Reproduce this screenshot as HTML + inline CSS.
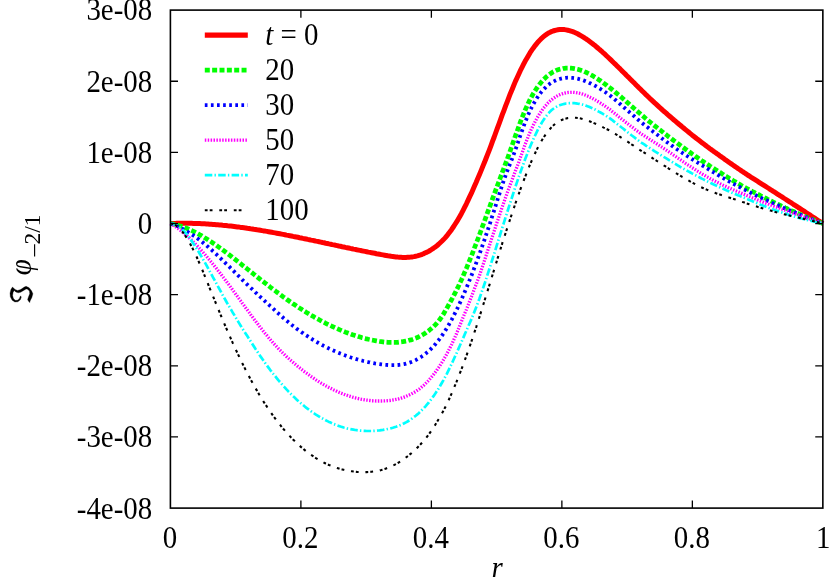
<!DOCTYPE html>
<html><head><meta charset="utf-8"><title>plot</title>
<style>
html,body{margin:0;padding:0;background:#fff;}
body{width:831px;height:577px;overflow:hidden;position:relative;font-family:"Liberation Serif",serif;}
</style></head><body>
<svg width="831" height="577" viewBox="0 0 831 577" style="position:absolute;left:0;top:0;will-change:transform">
<rect width="831" height="577" fill="#fff"/>
<path d="M170.4,223.5 L172.0,223.5 L173.7,223.4 L175.3,223.4 L176.9,223.3 L178.6,223.3 L180.2,223.3 L181.8,223.3 L183.5,223.2 L185.1,223.2 L186.8,223.3 L188.4,223.3 L190.0,223.3 L191.7,223.3 L193.3,223.4 L194.9,223.4 L196.6,223.5 L198.2,223.5 L199.8,223.6 L201.5,223.7 L203.1,223.8 L204.7,223.8 L206.4,223.9 L208.0,224.0 L209.6,224.2 L211.3,224.3 L212.9,224.4 L214.6,224.5 L216.2,224.7 L217.8,224.8 L219.5,224.9 L221.1,225.1 L222.7,225.3 L224.4,225.4 L226.0,225.6 L227.6,225.8 L229.3,225.9 L230.9,226.1 L232.5,226.3 L234.2,226.5 L235.8,226.7 L237.4,226.9 L239.1,227.1 L240.7,227.4 L242.3,227.6 L244.0,227.8 L245.6,228.0 L247.3,228.3 L248.9,228.5 L250.5,228.8 L252.2,229.0 L253.8,229.3 L255.4,229.5 L257.1,229.8 L258.7,230.0 L260.3,230.3 L262.0,230.6 L263.6,230.9 L265.2,231.1 L266.9,231.4 L268.5,231.7 L270.1,232.0 L271.8,232.3 L273.4,232.6 L275.1,232.9 L276.7,233.2 L278.3,233.5 L280.0,233.8 L281.6,234.1 L283.2,234.4 L284.9,234.7 L286.5,235.1 L288.1,235.4 L289.8,235.7 L291.4,236.0 L293.0,236.4 L294.7,236.7 L296.3,237.0 L297.9,237.3 L299.6,237.7 L301.2,238.0 L302.9,238.4 L304.5,238.7 L306.1,239.0 L307.8,239.4 L309.4,239.7 L311.0,240.1 L312.7,240.4 L314.3,240.7 L315.9,241.1 L317.6,241.4 L319.2,241.8 L320.8,242.1 L322.5,242.5 L324.1,242.8 L325.7,243.2 L327.4,243.5 L329.0,243.9 L330.7,244.2 L332.3,244.6 L333.9,244.9 L335.6,245.3 L337.2,245.6 L338.8,246.0 L340.5,246.3 L342.1,246.7 L343.7,247.0 L345.4,247.4 L347.0,247.7 L348.6,248.0 L350.3,248.4 L351.9,248.7 L353.5,249.1 L355.2,249.4 L356.8,249.8 L358.4,250.1 L360.1,250.4 L361.7,250.8 L363.4,251.1 L365.0,251.4 L366.6,251.7 L368.3,252.1 L369.9,252.4 L371.5,252.7 L373.2,253.0 L374.8,253.3 L376.4,253.7 L378.1,254.0 L379.7,254.3 L381.3,254.6 L383.0,254.9 L384.6,255.2 L386.2,255.5 L387.9,255.8 L389.5,256.0 L391.2,256.3 L392.8,256.5 L394.4,256.7 L396.1,256.9 L397.7,257.1 L399.3,257.2 L401.0,257.3 L402.6,257.4 L404.2,257.4 L405.9,257.4 L407.5,257.3 L409.1,257.2 L410.8,257.1 L412.4,256.9 L414.0,256.6 L415.7,256.2 L417.3,255.9 L419.0,255.4 L420.6,254.9 L422.2,254.3 L423.9,253.6 L425.5,252.8 L427.1,252.1 L428.8,251.2 L430.4,250.3 L432.0,249.2 L433.7,248.1 L435.3,246.9 L436.9,245.7 L438.6,244.3 L440.2,242.8 L441.8,241.3 L443.5,239.6 L445.1,237.9 L446.8,235.9 L448.4,233.8 L450.0,231.7 L451.7,229.4 L453.3,227.0 L454.9,224.5 L456.6,221.9 L458.2,219.2 L459.8,216.4 L461.5,213.4 L463.1,210.3 L464.7,207.1 L466.4,203.8 L468.0,200.4 L469.6,196.9 L471.3,193.4 L472.9,189.8 L474.5,186.1 L476.2,182.3 L477.8,178.4 L479.5,174.5 L481.1,170.6 L482.7,166.6 L484.4,162.6 L486.0,158.5 L487.6,154.4 L489.3,150.1 L490.9,145.8 L492.5,141.4 L494.2,137.0 L495.8,132.5 L497.4,128.1 L499.1,123.6 L500.7,119.1 L502.3,114.7 L504.0,110.3 L505.6,105.9 L507.3,101.6 L508.9,97.4 L510.5,93.2 L512.2,89.2 L513.8,85.3 L515.4,81.4 L517.1,77.7 L518.7,74.2 L520.3,70.7 L522.0,67.4 L523.6,64.2 L525.2,61.1 L526.9,58.2 L528.5,55.4 L530.1,52.7 L531.8,50.2 L533.4,47.9 L535.1,45.6 L536.7,43.6 L538.3,41.7 L540.0,39.9 L541.6,38.3 L543.2,36.9 L544.9,35.5 L546.5,34.4 L548.1,33.3 L549.8,32.4 L551.4,31.6 L553.0,31.0 L554.7,30.5 L556.3,30.1 L557.9,29.8 L559.6,29.6 L561.2,29.5 L562.9,29.5 L564.5,29.6 L566.1,29.9 L567.8,30.2 L569.4,30.6 L571.0,31.1 L572.7,31.6 L574.3,32.3 L575.9,33.0 L577.6,33.8 L579.2,34.7 L580.8,35.6 L582.5,36.6 L584.1,37.6 L585.7,38.7 L587.4,39.8 L589.0,41.0 L590.6,42.2 L592.3,43.5 L593.9,44.8 L595.6,46.1 L597.2,47.5 L598.8,48.9 L600.5,50.3 L602.1,51.7 L603.7,53.2 L605.4,54.7 L607.0,56.3 L608.6,57.8 L610.3,59.4 L611.9,60.9 L613.5,62.5 L615.2,64.1 L616.8,65.7 L618.4,67.3 L620.1,68.9 L621.7,70.6 L623.4,72.2 L625.0,73.8 L626.6,75.5 L628.3,77.1 L629.9,78.7 L631.5,80.4 L633.2,82.0 L634.8,83.6 L636.4,85.3 L638.1,86.9 L639.7,88.5 L641.3,90.1 L643.0,91.7 L644.6,93.3 L646.2,94.9 L647.9,96.5 L649.5,98.1 L651.2,99.6 L652.8,101.1 L654.4,102.6 L656.1,104.1 L657.7,105.6 L659.3,107.1 L661.0,108.6 L662.6,110.1 L664.2,111.5 L665.9,112.9 L667.5,114.4 L669.1,115.8 L670.8,117.2 L672.4,118.6 L674.0,120.0 L675.7,121.4 L677.3,122.8 L679.0,124.2 L680.6,125.5 L682.2,126.9 L683.9,128.3 L685.5,129.6 L687.1,130.9 L688.8,132.3 L690.4,133.6 L692.0,134.9 L693.7,136.2 L695.3,137.5 L696.9,138.8 L698.6,140.1 L700.2,141.3 L701.8,142.6 L703.5,143.8 L705.1,145.0 L706.7,146.3 L708.4,147.5 L710.0,148.7 L711.7,149.9 L713.3,151.1 L714.9,152.2 L716.6,153.4 L718.2,154.6 L719.8,155.8 L721.5,156.9 L723.1,158.1 L724.7,159.3 L726.4,160.4 L728.0,161.6 L729.6,162.7 L731.3,163.9 L732.9,165.0 L734.5,166.1 L736.2,167.3 L737.8,168.4 L739.5,169.5 L741.1,170.6 L742.7,171.7 L744.4,172.8 L746.0,173.9 L747.6,175.0 L749.3,176.0 L750.9,177.1 L752.5,178.1 L754.2,179.2 L755.8,180.2 L757.4,181.2 L759.1,182.3 L760.7,183.3 L762.3,184.3 L764.0,185.4 L765.6,186.4 L767.3,187.5 L768.9,188.5 L770.5,189.6 L772.2,190.6 L773.8,191.7 L775.4,192.7 L777.1,193.8 L778.7,194.8 L780.3,195.9 L782.0,196.9 L783.6,198.0 L785.2,199.0 L786.9,200.1 L788.5,201.1 L790.1,202.2 L791.8,203.2 L793.4,204.3 L795.1,205.4 L796.7,206.4 L798.3,207.5 L800.0,208.5 L801.6,209.6 L803.2,210.6 L804.9,211.7 L806.5,212.8 L808.1,213.8 L809.8,214.9 L811.4,216.0 L813.0,217.0 L814.7,218.1 L816.3,219.2 L817.9,220.3 L819.6,221.4 L821.2,222.4 L822.9,223.5" fill="none" stroke="#ff0000" stroke-width="5.0" stroke-linejoin="round"/>
<path d="M170.4,223.5 L172.0,223.8 L173.7,224.2 L175.3,224.5 L176.9,225.0 L178.6,225.4 L180.2,225.9 L181.8,226.5 L183.5,227.1 L185.1,227.7 L186.8,228.3 L188.4,229.0 L190.0,229.8 L191.7,230.5 L193.3,231.3 L194.9,232.1 L196.6,233.0 L198.2,233.9 L199.8,234.8 L201.5,235.7 L203.1,236.7 L204.7,237.7 L206.4,238.7 L208.0,239.7 L209.6,240.8 L211.3,241.9 L212.9,243.0 L214.6,244.1 L216.2,245.2 L217.8,246.4 L219.5,247.6 L221.1,248.7 L222.7,249.9 L224.4,251.2 L226.0,252.4 L227.6,253.6 L229.3,254.9 L230.9,256.1 L232.5,257.4 L234.2,258.7 L235.8,259.9 L237.4,261.2 L239.1,262.5 L240.7,263.8 L242.3,265.1 L244.0,266.4 L245.6,267.7 L247.3,269.0 L248.9,270.3 L250.5,271.6 L252.2,272.9 L253.8,274.2 L255.4,275.5 L257.1,276.8 L258.7,278.1 L260.3,279.4 L262.0,280.7 L263.6,281.9 L265.2,283.2 L266.9,284.5 L268.5,285.7 L270.1,287.0 L271.8,288.3 L273.4,289.5 L275.1,290.7 L276.7,292.0 L278.3,293.2 L280.0,294.4 L281.6,295.6 L283.2,296.8 L284.9,298.0 L286.5,299.2 L288.1,300.3 L289.8,301.5 L291.4,302.6 L293.0,303.7 L294.7,304.8 L296.3,305.9 L297.9,307.0 L299.6,308.1 L301.2,309.1 L302.9,310.2 L304.5,311.2 L306.1,312.2 L307.8,313.2 L309.4,314.2 L311.0,315.2 L312.7,316.1 L314.3,317.1 L315.9,318.0 L317.6,318.9 L319.2,319.8 L320.8,320.7 L322.5,321.6 L324.1,322.4 L325.7,323.3 L327.4,324.1 L329.0,324.9 L330.7,325.7 L332.3,326.5 L333.9,327.2 L335.6,328.0 L337.2,328.7 L338.8,329.4 L340.5,330.1 L342.1,330.8 L343.7,331.4 L345.4,332.1 L347.0,332.7 L348.6,333.3 L350.3,333.9 L351.9,334.5 L353.5,335.1 L355.2,335.6 L356.8,336.1 L358.4,336.6 L360.1,337.1 L361.7,337.6 L363.4,338.0 L365.0,338.4 L366.6,338.9 L368.3,339.3 L369.9,339.6 L371.5,340.0 L373.2,340.3 L374.8,340.6 L376.4,340.9 L378.1,341.2 L379.7,341.5 L381.3,341.7 L383.0,341.9 L384.6,342.1 L386.2,342.2 L387.9,342.3 L389.5,342.4 L391.2,342.4 L392.8,342.4 L394.4,342.4 L396.1,342.4 L397.7,342.3 L399.3,342.1 L401.0,341.9 L402.6,341.7 L404.2,341.4 L405.9,341.1 L407.5,340.8 L409.1,340.3 L410.8,339.9 L412.4,339.4 L414.0,338.8 L415.7,338.2 L417.3,337.5 L419.0,336.7 L420.6,335.9 L422.2,335.0 L423.9,334.0 L425.5,333.0 L427.1,331.8 L428.8,330.6 L430.4,329.3 L432.0,327.9 L433.7,326.4 L435.3,324.8 L436.9,323.1 L438.6,321.1 L440.2,319.0 L441.8,316.6 L443.5,314.0 L445.1,311.2 L446.8,308.3 L448.4,305.4 L450.0,302.5 L451.7,299.5 L453.3,296.4 L454.9,293.3 L456.6,290.0 L458.2,286.7 L459.8,283.2 L461.5,279.7 L463.1,276.0 L464.7,272.2 L466.4,268.4 L468.0,264.4 L469.6,260.4 L471.3,256.3 L472.9,252.1 L474.5,247.8 L476.2,243.5 L477.8,239.2 L479.5,234.8 L481.1,230.3 L482.7,225.9 L484.4,221.4 L486.0,216.9 L487.6,212.4 L489.3,207.9 L490.9,203.4 L492.5,198.9 L494.2,194.4 L495.8,189.9 L497.4,185.5 L499.1,181.1 L500.7,176.7 L502.3,172.3 L504.0,167.9 L505.6,163.5 L507.3,159.0 L508.9,154.5 L510.5,149.9 L512.2,145.2 L513.8,140.6 L515.4,135.9 L517.1,131.3 L518.7,126.7 L520.3,122.2 L522.0,117.9 L523.6,113.8 L525.2,109.9 L526.9,106.2 L528.5,102.7 L530.1,99.4 L531.8,96.3 L533.4,93.4 L535.1,90.7 L536.7,88.2 L538.3,85.9 L540.0,83.7 L541.6,81.8 L543.2,79.9 L544.9,78.3 L546.5,76.7 L548.1,75.4 L549.8,74.1 L551.4,73.0 L553.0,72.0 L554.7,71.2 L556.3,70.4 L557.9,69.8 L559.6,69.3 L561.2,68.9 L562.9,68.5 L564.5,68.3 L566.1,68.1 L567.8,68.1 L569.4,68.1 L571.0,68.2 L572.7,68.3 L574.3,68.6 L575.9,68.9 L577.6,69.3 L579.2,69.8 L580.8,70.3 L582.5,70.9 L584.1,71.5 L585.7,72.2 L587.4,73.0 L589.0,73.8 L590.6,74.7 L592.3,75.6 L593.9,76.6 L595.6,77.6 L597.2,78.6 L598.8,79.7 L600.5,80.8 L602.1,82.0 L603.7,83.2 L605.4,84.4 L607.0,85.6 L608.6,86.9 L610.3,88.1 L611.9,89.4 L613.5,90.7 L615.2,92.1 L616.8,93.4 L618.4,94.7 L620.1,96.1 L621.7,97.5 L623.4,99.0 L625.0,100.4 L626.6,101.9 L628.3,103.3 L629.9,104.8 L631.5,106.2 L633.2,107.6 L634.8,109.1 L636.4,110.5 L638.1,111.9 L639.7,113.3 L641.3,114.7 L643.0,116.1 L644.6,117.5 L646.2,118.9 L647.9,120.3 L649.5,121.7 L651.2,123.0 L652.8,124.3 L654.4,125.6 L656.1,126.9 L657.7,128.2 L659.3,129.5 L661.0,130.7 L662.6,132.0 L664.2,133.3 L665.9,134.5 L667.5,135.8 L669.1,137.0 L670.8,138.2 L672.4,139.5 L674.0,140.7 L675.7,141.9 L677.3,143.1 L679.0,144.4 L680.6,145.6 L682.2,146.8 L683.9,148.0 L685.5,149.2 L687.1,150.3 L688.8,151.5 L690.4,152.7 L692.0,153.9 L693.7,155.0 L695.3,156.2 L696.9,157.3 L698.6,158.5 L700.2,159.6 L701.8,160.7 L703.5,161.8 L705.1,162.9 L706.7,164.0 L708.4,165.0 L710.0,166.1 L711.7,167.2 L713.3,168.2 L714.9,169.3 L716.6,170.3 L718.2,171.4 L719.8,172.4 L721.5,173.4 L723.1,174.4 L724.7,175.5 L726.4,176.5 L728.0,177.5 L729.6,178.5 L731.3,179.5 L732.9,180.4 L734.5,181.4 L736.2,182.4 L737.8,183.4 L739.5,184.3 L741.1,185.3 L742.7,186.2 L744.4,187.2 L746.0,188.1 L747.6,189.0 L749.3,189.8 L750.9,190.7 L752.5,191.6 L754.2,192.4 L755.8,193.3 L757.4,194.1 L759.1,194.9 L760.7,195.8 L762.3,196.6 L764.0,197.4 L765.6,198.2 L767.3,199.1 L768.9,199.9 L770.5,200.7 L772.2,201.5 L773.8,202.3 L775.4,203.1 L777.1,203.9 L778.7,204.7 L780.3,205.5 L782.0,206.3 L783.6,207.0 L785.2,207.8 L786.9,208.5 L788.5,209.3 L790.1,210.0 L791.8,210.8 L793.4,211.5 L795.1,212.2 L796.7,212.9 L798.3,213.6 L800.0,214.3 L801.6,215.0 L803.2,215.7 L804.9,216.4 L806.5,217.1 L808.1,217.8 L809.8,218.4 L811.4,219.1 L813.0,219.7 L814.7,220.4 L816.3,221.0 L817.9,221.7 L819.6,222.3 L821.2,222.9 L822.9,223.5" fill="none" stroke="#00ff00" stroke-width="4.7" stroke-dasharray="5,2.35" stroke-linejoin="round"/>
<path d="M170.4,223.5 L172.0,224.1 L173.7,224.8 L175.3,225.4 L176.9,226.1 L178.6,226.9 L180.2,227.7 L181.8,228.5 L183.5,229.4 L185.1,230.3 L186.8,231.3 L188.4,232.3 L190.0,233.3 L191.7,234.3 L193.3,235.4 L194.9,236.5 L196.6,237.7 L198.2,238.9 L199.8,240.1 L201.5,241.4 L203.1,242.7 L204.7,244.1 L206.4,245.4 L208.0,246.8 L209.6,248.3 L211.3,249.7 L212.9,251.2 L214.6,252.7 L216.2,254.2 L217.8,255.7 L219.5,257.3 L221.1,258.8 L222.7,260.4 L224.4,262.0 L226.0,263.6 L227.6,265.1 L229.3,266.7 L230.9,268.3 L232.5,269.9 L234.2,271.6 L235.8,273.2 L237.4,274.8 L239.1,276.5 L240.7,278.1 L242.3,279.8 L244.0,281.4 L245.6,283.0 L247.3,284.6 L248.9,286.1 L250.5,287.7 L252.2,289.2 L253.8,290.8 L255.4,292.3 L257.1,293.8 L258.7,295.4 L260.3,296.9 L262.0,298.4 L263.6,299.9 L265.2,301.4 L266.9,302.9 L268.5,304.4 L270.1,305.9 L271.8,307.4 L273.4,308.9 L275.1,310.5 L276.7,312.0 L278.3,313.4 L280.0,314.9 L281.6,316.3 L283.2,317.8 L284.9,319.2 L286.5,320.6 L288.1,321.9 L289.8,323.3 L291.4,324.6 L293.0,325.9 L294.7,327.1 L296.3,328.4 L297.9,329.6 L299.6,330.8 L301.2,332.0 L302.9,333.1 L304.5,334.3 L306.1,335.4 L307.8,336.4 L309.4,337.5 L311.0,338.5 L312.7,339.6 L314.3,340.6 L315.9,341.5 L317.6,342.5 L319.2,343.4 L320.8,344.3 L322.5,345.2 L324.1,346.1 L325.7,346.9 L327.4,347.7 L329.0,348.5 L330.7,349.3 L332.3,350.1 L333.9,350.8 L335.6,351.5 L337.2,352.3 L338.8,352.9 L340.5,353.6 L342.1,354.2 L343.7,354.9 L345.4,355.5 L347.0,356.1 L348.6,356.6 L350.3,357.2 L351.9,357.7 L353.5,358.2 L355.2,358.7 L356.8,359.2 L358.4,359.7 L360.1,360.1 L361.7,360.5 L363.4,361.0 L365.0,361.3 L366.6,361.7 L368.3,362.1 L369.9,362.4 L371.5,362.8 L373.2,363.1 L374.8,363.4 L376.4,363.6 L378.1,363.9 L379.7,364.1 L381.3,364.4 L383.0,364.6 L384.6,364.8 L386.2,364.9 L387.9,365.0 L389.5,365.1 L391.2,365.2 L392.8,365.2 L394.4,365.2 L396.1,365.1 L397.7,365.0 L399.3,364.8 L401.0,364.6 L402.6,364.4 L404.2,364.1 L405.9,363.7 L407.5,363.2 L409.1,362.8 L410.8,362.2 L412.4,361.6 L414.0,360.9 L415.7,360.1 L417.3,359.2 L419.0,358.3 L420.6,357.3 L422.2,356.2 L423.9,355.1 L425.5,353.8 L427.1,352.4 L428.8,351.0 L430.4,349.5 L432.0,347.8 L433.7,346.1 L435.3,344.2 L436.9,342.3 L438.6,340.2 L440.2,338.1 L441.8,335.8 L443.5,333.4 L445.1,330.9 L446.8,328.2 L448.4,325.5 L450.0,322.6 L451.7,319.6 L453.3,316.5 L454.9,313.3 L456.6,310.0 L458.2,306.6 L459.8,303.1 L461.5,299.5 L463.1,295.8 L464.7,292.0 L466.4,288.1 L468.0,284.2 L469.6,280.1 L471.3,276.0 L472.9,271.7 L474.5,267.4 L476.2,263.0 L477.8,258.6 L479.5,254.1 L481.1,249.4 L482.7,244.8 L484.4,240.0 L486.0,235.2 L487.6,230.4 L489.3,225.4 L490.9,220.5 L492.5,215.4 L494.2,210.3 L495.8,205.2 L497.4,200.0 L499.1,194.8 L500.7,189.7 L502.3,184.7 L504.0,179.9 L505.6,175.3 L507.3,170.9 L508.9,166.7 L510.5,162.6 L512.2,158.5 L513.8,154.2 L515.4,149.7 L517.1,145.0 L518.7,140.3 L520.3,135.5 L522.0,130.8 L523.6,126.3 L525.2,122.0 L526.9,117.9 L528.5,114.1 L530.1,110.5 L531.8,107.2 L533.4,104.1 L535.1,101.2 L536.7,98.5 L538.3,96.1 L540.0,93.8 L541.6,91.7 L543.2,89.8 L544.9,88.1 L546.5,86.5 L548.1,85.1 L549.8,83.8 L551.4,82.7 L553.0,81.7 L554.7,80.9 L556.3,80.1 L557.9,79.5 L559.6,79.0 L561.2,78.6 L562.9,78.2 L564.5,78.0 L566.1,77.8 L567.8,77.7 L569.4,77.7 L571.0,77.8 L572.7,77.9 L574.3,78.1 L575.9,78.3 L577.6,78.7 L579.2,79.1 L580.8,79.5 L582.5,80.0 L584.1,80.6 L585.7,81.2 L587.4,81.9 L589.0,82.7 L590.6,83.4 L592.3,84.3 L593.9,85.1 L595.6,86.0 L597.2,87.0 L598.8,88.0 L600.5,89.0 L602.1,90.0 L603.7,91.1 L605.4,92.2 L607.0,93.4 L608.6,94.5 L610.3,95.7 L611.9,97.1 L613.5,98.4 L615.2,99.8 L616.8,101.2 L618.4,102.6 L620.1,104.0 L621.7,105.4 L623.4,106.9 L625.0,108.3 L626.6,109.7 L628.3,111.1 L629.9,112.6 L631.5,114.0 L633.2,115.4 L634.8,116.8 L636.4,118.3 L638.1,119.7 L639.7,121.1 L641.3,122.4 L643.0,123.7 L644.6,125.0 L646.2,126.3 L647.9,127.5 L649.5,128.8 L651.2,130.1 L652.8,131.4 L654.4,132.6 L656.1,133.9 L657.7,135.1 L659.3,136.4 L661.0,137.6 L662.6,138.9 L664.2,140.1 L665.9,141.4 L667.5,142.6 L669.1,143.8 L670.8,145.0 L672.4,146.1 L674.0,147.3 L675.7,148.4 L677.3,149.5 L679.0,150.6 L680.6,151.7 L682.2,152.8 L683.9,153.9 L685.5,154.9 L687.1,156.0 L688.8,157.1 L690.4,158.1 L692.0,159.1 L693.7,160.2 L695.3,161.2 L696.9,162.2 L698.6,163.2 L700.2,164.2 L701.8,165.2 L703.5,166.1 L705.1,167.1 L706.7,168.2 L708.4,169.2 L710.0,170.2 L711.7,171.2 L713.3,172.2 L714.9,173.2 L716.6,174.2 L718.2,175.2 L719.8,176.1 L721.5,177.1 L723.1,178.0 L724.7,179.0 L726.4,179.9 L728.0,180.8 L729.6,181.7 L731.3,182.6 L732.9,183.5 L734.5,184.4 L736.2,185.3 L737.8,186.2 L739.5,187.0 L741.1,187.9 L742.7,188.7 L744.4,189.6 L746.0,190.4 L747.6,191.2 L749.3,192.1 L750.9,192.9 L752.5,193.7 L754.2,194.5 L755.8,195.3 L757.4,196.1 L759.1,196.8 L760.7,197.6 L762.3,198.4 L764.0,199.1 L765.6,199.9 L767.3,200.6 L768.9,201.4 L770.5,202.1 L772.2,202.9 L773.8,203.6 L775.4,204.3 L777.1,205.0 L778.7,205.8 L780.3,206.5 L782.0,207.2 L783.6,207.9 L785.2,208.6 L786.9,209.2 L788.5,209.9 L790.1,210.6 L791.8,211.3 L793.4,212.0 L795.1,212.6 L796.7,213.3 L798.3,214.0 L800.0,214.6 L801.6,215.3 L803.2,215.9 L804.9,216.6 L806.5,217.2 L808.1,217.9 L809.8,218.5 L811.4,219.1 L813.0,219.8 L814.7,220.4 L816.3,221.0 L817.9,221.7 L819.6,222.3 L821.2,222.9 L822.9,223.5" fill="none" stroke="#0000ff" stroke-width="3.8" stroke-dasharray="2.7,3.4" stroke-linejoin="round"/>
<path d="M170.4,223.5 L172.0,224.5 L173.7,225.5 L175.3,226.6 L176.9,227.7 L178.6,228.9 L180.2,230.2 L181.8,231.5 L183.5,232.8 L185.1,234.2 L186.8,235.6 L188.4,237.1 L190.0,238.7 L191.7,240.2 L193.3,241.8 L194.9,243.5 L196.6,245.2 L198.2,246.9 L199.8,248.7 L201.5,250.5 L203.1,252.4 L204.7,254.2 L206.4,256.1 L208.0,258.1 L209.6,260.0 L211.3,262.0 L212.9,264.0 L214.6,266.1 L216.2,268.1 L217.8,270.2 L219.5,272.3 L221.1,274.4 L222.7,276.6 L224.4,278.8 L226.0,280.9 L227.6,283.1 L229.3,285.3 L230.9,287.5 L232.5,289.7 L234.2,292.0 L235.8,294.2 L237.4,296.4 L239.1,298.7 L240.7,300.9 L242.3,303.2 L244.0,305.4 L245.6,307.7 L247.3,309.9 L248.9,312.1 L250.5,314.4 L252.2,316.6 L253.8,318.8 L255.4,320.9 L257.1,323.1 L258.7,325.2 L260.3,327.4 L262.0,329.4 L263.6,331.5 L265.2,333.5 L266.9,335.5 L268.5,337.5 L270.1,339.4 L271.8,341.3 L273.4,343.2 L275.1,345.0 L276.7,346.7 L278.3,348.5 L280.0,350.1 L281.6,351.8 L283.2,353.4 L284.9,354.9 L286.5,356.5 L288.1,358.0 L289.8,359.5 L291.4,360.9 L293.0,362.3 L294.7,363.8 L296.3,365.1 L297.9,366.5 L299.6,367.8 L301.2,369.1 L302.9,370.4 L304.5,371.7 L306.1,372.9 L307.8,374.1 L309.4,375.3 L311.0,376.5 L312.7,377.6 L314.3,378.7 L315.9,379.8 L317.6,380.8 L319.2,381.9 L320.8,382.9 L322.5,383.8 L324.1,384.8 L325.7,385.7 L327.4,386.6 L329.0,387.5 L330.7,388.3 L332.3,389.2 L333.9,390.0 L335.6,390.7 L337.2,391.5 L338.8,392.2 L340.5,392.9 L342.1,393.5 L343.7,394.1 L345.4,394.8 L347.0,395.3 L348.6,395.9 L350.3,396.4 L351.9,396.9 L353.5,397.4 L355.2,397.8 L356.8,398.2 L358.4,398.6 L360.1,399.0 L361.7,399.3 L363.4,399.6 L365.0,399.9 L366.6,400.1 L368.3,400.3 L369.9,400.5 L371.5,400.7 L373.2,400.8 L374.8,400.9 L376.4,401.0 L378.1,401.0 L379.7,401.0 L381.3,401.0 L383.0,400.9 L384.6,400.9 L386.2,400.8 L387.9,400.6 L389.5,400.5 L391.2,400.3 L392.8,400.0 L394.4,399.8 L396.1,399.4 L397.7,399.1 L399.3,398.7 L401.0,398.2 L402.6,397.7 L404.2,397.1 L405.9,396.5 L407.5,395.8 L409.1,395.1 L410.8,394.3 L412.4,393.4 L414.0,392.5 L415.7,391.5 L417.3,390.4 L419.0,389.3 L420.6,388.0 L422.2,386.6 L423.9,385.2 L425.5,383.6 L427.1,382.0 L428.8,380.3 L430.4,378.4 L432.0,376.5 L433.7,374.4 L435.3,372.3 L436.9,370.0 L438.6,367.6 L440.2,365.1 L441.8,362.6 L443.5,359.8 L445.1,357.0 L446.8,354.0 L448.4,351.0 L450.0,347.7 L451.7,344.4 L453.3,340.9 L454.9,337.3 L456.6,333.5 L458.2,329.6 L459.8,325.6 L461.5,321.4 L463.1,317.4 L464.7,313.5 L466.4,309.6 L468.0,305.5 L469.6,301.4 L471.3,297.2 L472.9,293.0 L474.5,288.6 L476.2,284.3 L477.8,279.9 L479.5,275.4 L481.1,270.7 L482.7,265.8 L484.4,260.8 L486.0,255.9 L487.6,250.9 L489.3,245.9 L490.9,240.9 L492.5,236.0 L494.2,231.0 L495.8,226.1 L497.4,221.2 L499.1,216.3 L500.7,211.5 L502.3,206.7 L504.0,202.0 L505.6,197.4 L507.3,192.8 L508.9,188.3 L510.5,183.9 L512.2,179.5 L513.8,175.2 L515.4,170.9 L517.1,166.6 L518.7,162.3 L520.3,157.8 L522.0,153.3 L523.6,148.7 L525.2,144.2 L526.9,139.9 L528.5,135.8 L530.1,132.0 L531.8,128.3 L533.4,124.9 L535.1,121.7 L536.7,118.7 L538.3,115.9 L540.0,113.3 L541.6,110.9 L543.2,108.6 L544.9,106.6 L546.5,104.7 L548.1,102.9 L549.8,101.3 L551.4,99.9 L553.0,98.6 L554.7,97.5 L556.3,96.4 L557.9,95.5 L559.6,94.8 L561.2,94.1 L562.9,93.6 L564.5,93.1 L566.1,92.8 L567.8,92.5 L569.4,92.4 L571.0,92.3 L572.7,92.3 L574.3,92.4 L575.9,92.6 L577.6,92.9 L579.2,93.2 L580.8,93.6 L582.5,94.1 L584.1,94.7 L585.7,95.3 L587.4,96.0 L589.0,96.7 L590.6,97.5 L592.3,98.3 L593.9,99.2 L595.6,100.1 L597.2,101.1 L598.8,102.1 L600.5,103.1 L602.1,104.2 L603.7,105.3 L605.4,106.4 L607.0,107.5 L608.6,108.7 L610.3,109.8 L611.9,111.2 L613.5,112.5 L615.2,113.8 L616.8,115.1 L618.4,116.5 L620.1,117.8 L621.7,119.1 L623.4,120.4 L625.0,121.7 L626.6,122.9 L628.3,124.2 L629.9,125.5 L631.5,126.7 L633.2,127.9 L634.8,129.2 L636.4,130.4 L638.1,131.6 L639.7,132.8 L641.3,133.9 L643.0,135.0 L644.6,136.0 L646.2,137.1 L647.9,138.1 L649.5,139.2 L651.2,140.2 L652.8,141.3 L654.4,142.3 L656.1,143.4 L657.7,144.4 L659.3,145.5 L661.0,146.6 L662.6,147.6 L664.2,148.7 L665.9,149.8 L667.5,150.9 L669.1,152.0 L670.8,153.1 L672.4,154.3 L674.0,155.4 L675.7,156.5 L677.3,157.7 L679.0,158.8 L680.6,159.9 L682.2,161.0 L683.9,162.1 L685.5,163.3 L687.1,164.4 L688.8,165.4 L690.4,166.5 L692.0,167.6 L693.7,168.7 L695.3,169.7 L696.9,170.8 L698.6,171.8 L700.2,172.8 L701.8,173.8 L703.5,174.8 L705.1,175.7 L706.7,176.7 L708.4,177.6 L710.0,178.6 L711.7,179.4 L713.3,180.3 L714.9,181.1 L716.6,182.0 L718.2,182.8 L719.8,183.6 L721.5,184.4 L723.1,185.2 L724.7,185.9 L726.4,186.7 L728.0,187.5 L729.6,188.2 L731.3,188.9 L732.9,189.6 L734.5,190.3 L736.2,191.0 L737.8,191.7 L739.5,192.4 L741.1,193.1 L742.7,193.7 L744.4,194.4 L746.0,195.1 L747.6,195.8 L749.3,196.5 L750.9,197.2 L752.5,197.9 L754.2,198.5 L755.8,199.2 L757.4,199.9 L759.1,200.5 L760.7,201.2 L762.3,201.8 L764.0,202.5 L765.6,203.1 L767.3,203.7 L768.9,204.3 L770.5,205.0 L772.2,205.6 L773.8,206.2 L775.4,206.8 L777.1,207.4 L778.7,208.0 L780.3,208.6 L782.0,209.2 L783.6,209.7 L785.2,210.3 L786.9,210.9 L788.5,211.5 L790.1,212.1 L791.8,212.6 L793.4,213.2 L795.1,213.8 L796.7,214.4 L798.3,214.9 L800.0,215.5 L801.6,216.1 L803.2,216.6 L804.9,217.2 L806.5,217.8 L808.1,218.3 L809.8,218.9 L811.4,219.5 L813.0,220.0 L814.7,220.6 L816.3,221.2 L817.9,221.8 L819.6,222.4 L821.2,222.9 L822.9,223.5" fill="none" stroke="#ff00ff" stroke-width="3.3" stroke-dasharray="1.5,1.4" stroke-linejoin="round"/>
<path d="M170.4,223.5 L172.0,223.7 L173.7,224.1 L175.3,224.7 L176.9,225.4 L178.6,226.4 L180.2,227.6 L181.8,229.0 L183.5,230.7 L185.1,232.5 L186.8,234.4 L188.4,236.5 L190.0,238.7 L191.7,241.0 L193.3,243.5 L194.9,246.0 L196.6,248.6 L198.2,251.1 L199.8,253.8 L201.5,256.6 L203.1,259.4 L204.7,262.2 L206.4,265.1 L208.0,268.1 L209.6,271.1 L211.3,274.1 L212.9,277.1 L214.6,280.1 L216.2,283.1 L217.8,286.1 L219.5,289.1 L221.1,292.1 L222.7,295.1 L224.4,298.1 L226.0,301.0 L227.6,303.8 L229.3,306.6 L230.9,309.4 L232.5,312.2 L234.2,314.9 L235.8,317.7 L237.4,320.4 L239.1,323.1 L240.7,325.7 L242.3,328.4 L244.0,331.0 L245.6,333.5 L247.3,336.1 L248.9,338.6 L250.5,341.1 L252.2,343.7 L253.8,346.3 L255.4,348.8 L257.1,351.2 L258.7,353.7 L260.3,356.1 L262.0,358.5 L263.6,360.8 L265.2,363.1 L266.9,365.4 L268.5,367.6 L270.1,369.8 L271.8,371.9 L273.4,374.0 L275.1,376.1 L276.7,378.1 L278.3,380.1 L280.0,382.0 L281.6,383.9 L283.2,385.8 L284.9,387.6 L286.5,389.4 L288.1,391.1 L289.8,392.8 L291.4,394.5 L293.0,396.1 L294.7,397.6 L296.3,399.2 L297.9,400.7 L299.6,402.1 L301.2,403.5 L302.9,404.9 L304.5,406.3 L306.1,407.6 L307.8,408.8 L309.4,410.0 L311.0,411.2 L312.7,412.4 L314.3,413.5 L315.9,414.6 L317.6,415.6 L319.2,416.6 L320.8,417.6 L322.5,418.5 L324.1,419.4 L325.7,420.3 L327.4,421.1 L329.0,421.9 L330.7,422.6 L332.3,423.4 L333.9,424.1 L335.6,424.7 L337.2,425.3 L338.8,425.9 L340.5,426.5 L342.1,427.0 L343.7,427.5 L345.4,427.9 L347.0,428.4 L348.6,428.7 L350.3,429.1 L351.9,429.4 L353.5,429.7 L355.2,430.0 L356.8,430.2 L358.4,430.4 L360.1,430.6 L361.7,430.7 L363.4,430.8 L365.0,430.9 L366.6,431.0 L368.3,431.0 L369.9,431.0 L371.5,431.0 L373.2,430.9 L374.8,430.8 L376.4,430.7 L378.1,430.5 L379.7,430.4 L381.3,430.1 L383.0,429.9 L384.6,429.6 L386.2,429.4 L387.9,429.0 L389.5,428.7 L391.2,428.2 L392.8,427.8 L394.4,427.3 L396.1,426.8 L397.7,426.2 L399.3,425.5 L401.0,424.8 L402.6,424.1 L404.2,423.3 L405.9,422.4 L407.5,421.5 L409.1,420.5 L410.8,419.4 L412.4,418.2 L414.0,417.0 L415.7,415.7 L417.3,414.4 L419.0,412.9 L420.6,411.4 L422.2,409.8 L423.9,408.1 L425.5,406.3 L427.1,404.4 L428.8,402.5 L430.4,400.4 L432.0,398.2 L433.7,395.9 L435.3,393.6 L436.9,391.1 L438.6,388.5 L440.2,385.8 L441.8,383.0 L443.5,380.1 L445.1,377.0 L446.8,373.9 L448.4,370.6 L450.0,367.3 L451.7,363.8 L453.3,360.3 L454.9,356.7 L456.6,353.1 L458.2,349.4 L459.8,345.7 L461.5,342.0 L463.1,338.2 L464.7,334.4 L466.4,330.7 L468.0,326.9 L469.6,323.2 L471.3,319.4 L472.9,315.5 L474.5,311.5 L476.2,307.2 L477.8,302.9 L479.5,298.4 L481.1,293.8 L482.7,289.1 L484.4,284.3 L486.0,279.4 L487.6,274.4 L489.3,269.3 L490.9,264.2 L492.5,259.0 L494.2,253.8 L495.8,248.6 L497.4,243.4 L499.1,238.1 L500.7,232.9 L502.3,227.6 L504.0,222.4 L505.6,217.2 L507.3,212.0 L508.9,206.9 L510.5,201.8 L512.2,196.7 L513.8,191.7 L515.4,186.8 L517.1,181.9 L518.7,177.2 L520.3,172.5 L522.0,167.9 L523.6,163.4 L525.2,159.0 L526.9,154.8 L528.5,150.7 L530.1,146.7 L531.8,142.8 L533.4,139.1 L535.1,135.5 L536.7,132.1 L538.3,128.9 L540.0,125.9 L541.6,123.0 L543.2,120.4 L544.9,117.9 L546.5,115.7 L548.1,113.7 L549.8,111.9 L551.4,110.3 L553.0,109.0 L554.7,107.8 L556.3,106.9 L557.9,106.0 L559.6,105.3 L561.2,104.8 L562.9,104.3 L564.5,103.9 L566.1,103.5 L567.8,103.3 L569.4,103.2 L571.0,103.1 L572.7,103.1 L574.3,103.2 L575.9,103.3 L577.6,103.6 L579.2,103.8 L580.8,104.2 L582.5,104.6 L584.1,105.1 L585.7,105.6 L587.4,106.2 L589.0,106.8 L590.6,107.5 L592.3,108.2 L593.9,109.0 L595.6,109.8 L597.2,110.7 L598.8,111.6 L600.5,112.5 L602.1,113.4 L603.7,114.4 L605.4,115.4 L607.0,116.4 L608.6,117.5 L610.3,118.6 L611.9,119.8 L613.5,121.1 L615.2,122.4 L616.8,123.7 L618.4,124.9 L620.1,126.2 L621.7,127.5 L623.4,128.8 L625.0,130.1 L626.6,131.4 L628.3,132.7 L629.9,133.9 L631.5,135.2 L633.2,136.5 L634.8,137.7 L636.4,139.0 L638.1,140.2 L639.7,141.5 L641.3,142.6 L643.0,143.7 L644.6,144.7 L646.2,145.8 L647.9,146.9 L649.5,147.9 L651.2,149.0 L652.8,150.0 L654.4,151.1 L656.1,152.1 L657.7,153.1 L659.3,154.2 L661.0,155.2 L662.6,156.2 L664.2,157.2 L665.9,158.2 L667.5,159.2 L669.1,160.2 L670.8,161.2 L672.4,162.2 L674.0,163.2 L675.7,164.2 L677.3,165.2 L679.0,166.2 L680.6,167.1 L682.2,168.0 L683.9,168.9 L685.5,169.8 L687.1,170.7 L688.8,171.6 L690.4,172.5 L692.0,173.4 L693.7,174.3 L695.3,175.1 L696.9,176.0 L698.6,176.9 L700.2,177.7 L701.8,178.6 L703.5,179.4 L705.1,180.3 L706.7,181.1 L708.4,181.9 L710.0,182.7 L711.7,183.5 L713.3,184.3 L714.9,185.1 L716.6,185.8 L718.2,186.6 L719.8,187.3 L721.5,188.1 L723.1,188.8 L724.7,189.5 L726.4,190.3 L728.0,191.0 L729.6,191.7 L731.3,192.4 L732.9,193.1 L734.5,193.8 L736.2,194.5 L737.8,195.2 L739.5,195.8 L741.1,196.5 L742.7,197.1 L744.4,197.8 L746.0,198.5 L747.6,199.2 L749.3,199.9 L750.9,200.6 L752.5,201.3 L754.2,202.0 L755.8,202.7 L757.4,203.4 L759.1,204.0 L760.7,204.7 L762.3,205.3 L764.0,206.0 L765.6,206.6 L767.3,207.3 L768.9,207.9 L770.5,208.5 L772.2,209.1 L773.8,209.7 L775.4,210.3 L777.1,210.8 L778.7,211.4 L780.3,212.0 L782.0,212.5 L783.6,213.1 L785.2,213.6 L786.9,214.1 L788.5,214.7 L790.1,215.2 L791.8,215.7 L793.4,216.2 L795.1,216.7 L796.7,217.1 L798.3,217.6 L800.0,218.1 L801.6,218.5 L803.2,219.0 L804.9,219.4 L806.5,219.8 L808.1,220.2 L809.8,220.6 L811.4,221.0 L813.0,221.4 L814.7,221.8 L816.3,222.2 L817.9,222.5 L819.6,222.9 L821.2,223.2 L822.9,223.5" fill="none" stroke="#00ffff" stroke-width="2.7" stroke-dasharray="7.5,2.2,1.4,2.3" stroke-linejoin="round"/>
<path d="M170.4,223.5 L172.0,223.7 L173.7,224.2 L175.3,225.0 L176.9,226.1 L178.6,227.5 L180.2,229.1 L181.8,231.0 L183.5,233.1 L185.1,235.4 L186.8,238.0 L188.4,240.7 L190.0,243.6 L191.7,246.7 L193.3,249.9 L194.9,253.3 L196.6,256.8 L198.2,260.4 L199.8,264.1 L201.5,267.9 L203.1,271.8 L204.7,275.8 L206.4,279.8 L208.0,283.8 L209.6,287.9 L211.3,292.0 L212.9,296.0 L214.6,300.1 L216.2,304.1 L217.8,308.1 L219.5,312.1 L221.1,316.0 L222.7,319.9 L224.4,323.8 L226.0,327.6 L227.6,331.3 L229.3,335.1 L230.9,338.8 L232.5,342.4 L234.2,346.0 L235.8,349.6 L237.4,353.1 L239.1,356.5 L240.7,359.9 L242.3,363.3 L244.0,366.6 L245.6,369.8 L247.3,373.0 L248.9,376.1 L250.5,379.2 L252.2,382.2 L253.8,385.2 L255.4,388.1 L257.1,390.9 L258.7,393.7 L260.3,396.4 L262.0,399.1 L263.6,401.7 L265.2,404.2 L266.9,406.7 L268.5,409.2 L270.1,411.5 L271.8,413.9 L273.4,416.2 L275.1,418.4 L276.7,420.6 L278.3,422.7 L280.0,424.7 L281.6,426.8 L283.2,428.7 L284.9,430.6 L286.5,432.5 L288.1,434.3 L289.8,436.1 L291.4,437.8 L293.0,439.5 L294.7,441.1 L296.3,442.7 L297.9,444.2 L299.6,445.7 L301.2,447.1 L302.9,448.5 L304.5,449.9 L306.1,451.2 L307.8,452.4 L309.4,453.6 L311.0,454.8 L312.7,455.9 L314.3,457.0 L315.9,458.1 L317.6,459.1 L319.2,460.0 L320.8,461.0 L322.5,461.8 L324.1,462.7 L325.7,463.5 L327.4,464.2 L329.0,465.0 L330.7,465.6 L332.3,466.3 L333.9,466.9 L335.6,467.5 L337.2,468.0 L338.8,468.5 L340.5,469.0 L342.1,469.4 L343.7,469.8 L345.4,470.2 L347.0,470.5 L348.6,470.8 L350.3,471.1 L351.9,471.3 L353.5,471.5 L355.2,471.7 L356.8,471.9 L358.4,472.0 L360.1,472.0 L361.7,472.1 L363.4,472.1 L365.0,472.1 L366.6,472.1 L368.3,472.0 L369.9,471.9 L371.5,471.7 L373.2,471.5 L374.8,471.3 L376.4,471.0 L378.1,470.7 L379.7,470.4 L381.3,470.0 L383.0,469.5 L384.6,469.0 L386.2,468.4 L387.9,467.8 L389.5,467.2 L391.2,466.5 L392.8,465.7 L394.4,464.9 L396.1,464.0 L397.7,463.1 L399.3,462.1 L401.0,461.0 L402.6,459.9 L404.2,458.7 L405.9,457.5 L407.5,456.3 L409.1,455.0 L410.8,453.7 L412.4,452.3 L414.0,450.8 L415.7,449.3 L417.3,447.7 L419.0,446.0 L420.6,444.3 L422.2,442.5 L423.9,440.6 L425.5,438.7 L427.1,436.6 L428.8,434.4 L430.4,432.1 L432.0,429.7 L433.7,427.2 L435.3,424.7 L436.9,422.1 L438.6,419.3 L440.2,416.5 L441.8,413.6 L443.5,410.6 L445.1,407.5 L446.8,404.2 L448.4,400.7 L450.0,397.1 L451.7,393.4 L453.3,389.6 L454.9,385.7 L456.6,381.7 L458.2,377.6 L459.8,373.4 L461.5,369.2 L463.1,364.9 L464.7,360.4 L466.4,355.9 L468.0,351.3 L469.6,346.6 L471.3,341.9 L472.9,337.0 L474.5,332.1 L476.2,327.1 L477.8,322.0 L479.5,316.8 L481.1,311.6 L482.7,306.4 L484.4,301.2 L486.0,295.9 L487.6,290.7 L489.3,285.4 L490.9,280.2 L492.5,274.9 L494.2,269.6 L495.8,264.3 L497.4,259.0 L499.1,253.6 L500.7,248.4 L502.3,243.2 L504.0,238.1 L505.6,233.0 L507.3,227.9 L508.9,222.9 L510.5,218.0 L512.2,213.1 L513.8,208.3 L515.4,203.5 L517.1,198.8 L518.7,194.2 L520.3,189.7 L522.0,185.2 L523.6,180.8 L525.2,176.6 L526.9,172.4 L528.5,168.3 L530.1,164.3 L531.8,160.5 L533.4,156.8 L535.1,153.2 L536.7,149.9 L538.3,146.6 L540.0,143.6 L541.6,140.7 L543.2,138.1 L544.9,135.6 L546.5,133.3 L548.1,131.1 L549.8,129.2 L551.4,127.4 L553.0,125.7 L554.7,124.3 L556.3,123.0 L557.9,121.9 L559.6,121.0 L561.2,120.2 L562.9,119.5 L564.5,118.9 L566.1,118.5 L567.8,118.1 L569.4,117.9 L571.0,117.8 L572.7,117.8 L574.3,117.7 L575.9,117.8 L577.6,118.0 L579.2,118.2 L580.8,118.5 L582.5,118.9 L584.1,119.4 L585.7,119.9 L587.4,120.4 L589.0,121.0 L590.6,121.7 L592.3,122.4 L593.9,123.1 L595.6,123.8 L597.2,124.5 L598.8,125.3 L600.5,126.0 L602.1,126.8 L603.7,127.6 L605.4,128.4 L607.0,129.2 L608.6,130.0 L610.3,130.9 L611.9,131.9 L613.5,132.8 L615.2,133.8 L616.8,134.8 L618.4,135.8 L620.1,136.9 L621.7,137.9 L623.4,138.9 L625.0,140.0 L626.6,141.1 L628.3,142.1 L629.9,143.2 L631.5,144.3 L633.2,145.4 L634.8,146.5 L636.4,147.5 L638.1,148.7 L639.7,149.8 L641.3,150.8 L643.0,151.9 L644.6,152.9 L646.2,154.0 L647.9,155.1 L649.5,156.1 L651.2,157.2 L652.8,158.3 L654.4,159.3 L656.1,160.4 L657.7,161.5 L659.3,162.5 L661.0,163.6 L662.6,164.6 L664.2,165.7 L665.9,166.7 L667.5,167.8 L669.1,168.8 L670.8,169.8 L672.4,170.9 L674.0,171.9 L675.7,172.9 L677.3,173.9 L679.0,174.9 L680.6,175.9 L682.2,176.9 L683.9,177.8 L685.5,178.8 L687.1,179.7 L688.8,180.7 L690.4,181.6 L692.0,182.5 L693.7,183.4 L695.3,184.3 L696.9,185.1 L698.6,186.0 L700.2,186.8 L701.8,187.5 L703.5,188.2 L705.1,188.9 L706.7,189.6 L708.4,190.3 L710.0,190.9 L711.7,191.5 L713.3,192.2 L714.9,192.8 L716.6,193.4 L718.2,194.0 L719.8,194.5 L721.5,195.1 L723.1,195.6 L724.7,196.2 L726.4,196.7 L728.0,197.2 L729.6,197.7 L731.3,198.2 L732.9,198.7 L734.5,199.2 L736.2,199.8 L737.8,200.4 L739.5,200.9 L741.1,201.5 L742.7,202.1 L744.4,202.6 L746.0,203.2 L747.6,203.7 L749.3,204.3 L750.9,204.8 L752.5,205.3 L754.2,205.8 L755.8,206.3 L757.4,206.8 L759.1,207.3 L760.7,207.8 L762.3,208.3 L764.0,208.8 L765.6,209.2 L767.3,209.7 L768.9,210.2 L770.5,210.6 L772.2,211.1 L773.8,211.5 L775.4,212.0 L777.1,212.4 L778.7,212.9 L780.3,213.3 L782.0,213.7 L783.6,214.1 L785.2,214.5 L786.9,214.9 L788.5,215.3 L790.1,215.7 L791.8,216.1 L793.4,216.5 L795.1,216.8 L796.7,217.2 L798.3,217.6 L800.0,218.0 L801.6,218.4 L803.2,218.8 L804.9,219.2 L806.5,219.6 L808.1,219.9 L809.8,220.3 L811.4,220.7 L813.0,221.1 L814.7,221.5 L816.3,221.9 L817.9,222.3 L819.6,222.7 L821.2,223.1 L822.9,223.5" fill="none" stroke="#000000" stroke-width="2.1" stroke-dasharray="2.8,2.1,2.8,6.8" stroke-linejoin="round"/>
<path d="M204.8,35.2 H247.8" fill="none" stroke="#ff0000" stroke-width="5.3"/>
<path d="M204.8,70.2 H247.8" fill="none" stroke="#00ff00" stroke-width="4.7" stroke-dasharray="5,2.35"/>
<path d="M204.8,105.2 H247.8" fill="none" stroke="#0000ff" stroke-width="3.8" stroke-dasharray="2.7,3.4"/>
<path d="M204.8,140.2 H247.8" fill="none" stroke="#ff00ff" stroke-width="3.3" stroke-dasharray="1.5,1.4"/>
<path d="M204.8,175.2 H247.8" fill="none" stroke="#00ffff" stroke-width="2.7" stroke-dasharray="7.5,2.2,1.4,2.3"/>
<path d="M204.8,210.2 H247.8" fill="none" stroke="#000000" stroke-width="2.1" stroke-dasharray="2.8,2.1,2.8,6.8"/>
<rect x="170.4" y="10.1" width="652.45" height="498.00" fill="none" stroke="#000" stroke-width="1.6"/>
<path d="M170.4,81.24h7.6M822.85,81.24h-7.6M170.4,152.39h7.6M822.85,152.39h-7.6M170.4,223.53h7.6M822.85,223.53h-7.6M170.4,294.67h7.6M822.85,294.67h-7.6M170.4,365.81h7.6M822.85,365.81h-7.6M170.4,436.96h7.6M822.85,436.96h-7.6M300.89,508.1v-7.6M300.89,10.1v7.6M431.38,508.1v-7.6M431.38,10.1v7.6M561.87,508.1v-7.6M561.87,10.1v7.6M692.36,508.1v-7.6M692.36,10.1v7.6" stroke="#000" stroke-width="1.3" fill="none"/>
<g font-family="'Liberation Serif', serif" font-size="28.9px" fill="#000">
<text transform="translate(152.2,19.5) scale(1,1.063)" text-anchor="end">3e-08</text>
<text transform="translate(152.2,91.6) scale(1,1.063)" text-anchor="end">2e-08</text>
<text transform="translate(152.2,162.8) scale(1,1.063)" text-anchor="end">1e-08</text>
<text transform="translate(152.2,233.9) scale(1,1.063)" text-anchor="end">0</text>
<text transform="translate(152.2,305.1) scale(1,1.063)" text-anchor="end">-1e-08</text>
<text transform="translate(152.2,376.2) scale(1,1.063)" text-anchor="end">-2e-08</text>
<text transform="translate(152.2,447.4) scale(1,1.063)" text-anchor="end">-3e-08</text>
<text transform="translate(152.2,518.5) scale(1,1.063)" text-anchor="end">-4e-08</text>
<text transform="translate(169.9,548.2) scale(1,1.063)" text-anchor="middle">0</text>
<text transform="translate(300.4,548.2) scale(1,1.063)" text-anchor="middle">0.2</text>
<text transform="translate(430.9,548.2) scale(1,1.063)" text-anchor="middle">0.4</text>
<text transform="translate(561.4,548.2) scale(1,1.063)" text-anchor="middle">0.6</text>
<text transform="translate(691.9,548.2) scale(1,1.063)" text-anchor="middle">0.8</text>
<text transform="translate(823.1,548.2) scale(1,1.063)" text-anchor="middle">1</text>
<text transform="translate(265.3,45.0) scale(1,1.063)" text-anchor="start"><tspan font-style="italic">t</tspan> = 0</text>
<text transform="translate(265.3,80.0) scale(1,1.063)" text-anchor="start">20</text>
<text transform="translate(265.3,115.0) scale(1,1.063)" text-anchor="start">30</text>
<text transform="translate(265.3,150.0) scale(1,1.063)" text-anchor="start">50</text>
<text transform="translate(265.3,185.0) scale(1,1.063)" text-anchor="start">70</text>
<text transform="translate(265.3,220.0) scale(1,1.063)" text-anchor="start">100</text>
<text transform="translate(497.0,578.4) scale(1,1.063)" text-anchor="middle" font-style="italic">r</text>
<g transform="translate(31,303.5) rotate(-90)">
<text transform="translate(28.3,0.0) scale(1,1.063)" text-anchor="start" font-style="italic">φ</text>
<text transform="translate(47.2,8.8) scale(1,1.0)" text-anchor="start" font-size="23.5px">–2/1</text>
</g>
</g>
<path d="M12.44,287.10 L15.17,289.53 L17.60,290.44 L20.63,289.53 L24.27,287.10 L26.09,286.37 L29.13,287.71 L31.55,290.74 L32.89,293.78 L31.86,297.42 L30.34,300.45 L29.73,302.27 L30.04,302.76 L28.52,301.36 L27.61,299.54 L28.52,296.81 L29.73,293.78 L29.43,291.05 L27.61,289.23 L26.09,288.92 L23.67,290.44 L20.63,292.26 L18.20,292.87 L15.78,291.96 L14.26,290.44 L13.05,292.56 L12.62,295.60 L13.35,298.33 L15.17,300.33 L17.29,300.33 L19.11,298.93 L20.33,296.20 L20.93,295.90 L21.24,297.42 L20.33,299.84 L17.90,301.79 L14.87,301.97 L12.14,300.15 L10.32,296.81 L10.01,293.17 L10.92,289.53Z" fill="#000" stroke="#000" stroke-width="0.3" stroke-linejoin="round"/>
</svg>
</body></html>
